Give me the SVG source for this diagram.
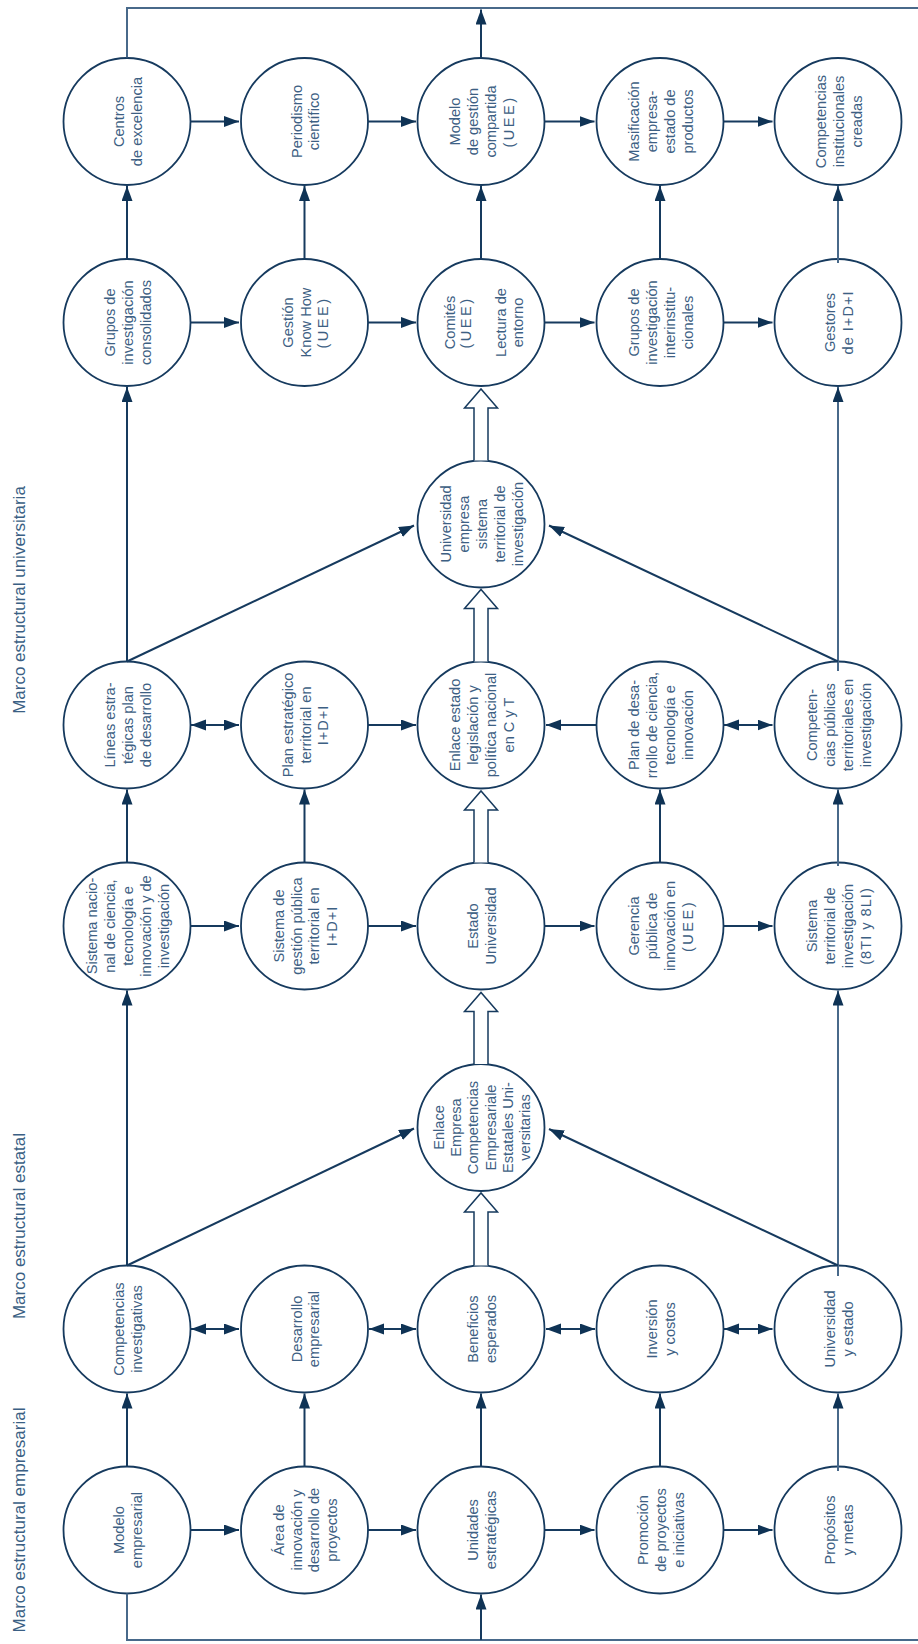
<svg xmlns="http://www.w3.org/2000/svg" width="918" height="1644" viewBox="0 0 918 1644">
<style>
.node circle{fill:#fff;stroke:#163a5e;stroke-width:1.8}
.node text{font-family:'Liberation Sans',Arial,sans-serif;font-size:14.6px;fill:#3d6083;text-anchor:middle}
.conn{stroke:#163a5e;stroke-width:2;fill:none}
.conn.light{stroke:#48698a}
.block{fill:#fff;stroke:#163a5e;stroke-width:1.5}
.label{font-family:'Liberation Sans',Arial,sans-serif;font-size:17px;fill:#3a5f84;text-anchor:middle}
.sp{letter-spacing:2.5px}
.sp1{letter-spacing:1px}
</style>
<defs>
<marker id="ah" markerUnits="userSpaceOnUse" markerWidth="16" markerHeight="12" refX="15" refY="5.5" orient="auto-start-reverse" viewBox="0 0 16 12">
<path d="M0,0 L15,5.5 L0,11 z" fill="#0f3355"/>
</marker>
</defs>

<g id="labels">
<text class="label" transform="translate(25,600) rotate(-90)">Marco estructural universitaria</text>
<text class="label" transform="translate(25,1226) rotate(-90)">Marco estructural estatal</text>
<text class="label" transform="translate(25,1520) rotate(-90)">Marco estructural empresarial</text>
</g>

<!-- Row 1 -->
<g id="n-centros" class="node" transform="translate(127,121.5)"><circle r="63.5"/><text transform="rotate(-90)"><tspan x="0" y="-2.9">Centros</tspan><tspan x="0" y="14.9">de excelencia</tspan></text></g>
<g id="n-periodismo" class="node" transform="translate(304.5,121.5)"><circle r="63.5"/><text transform="rotate(-90)"><tspan x="0" y="-2.9">Periodismo</tspan><tspan x="0" y="14.9">científico</tspan></text></g>
<g id="n-modelo-gestion" class="node" transform="translate(481,121.5)"><circle r="63.5"/><text transform="rotate(-90)"><tspan x="0" y="-20.7">Modelo</tspan><tspan x="0" y="-2.9">de gestión</tspan><tspan x="0" y="14.9">compartida</tspan><tspan x="0" y="32.7" class="sp">(UEE)</tspan></text></g>
<g id="n-masificacion" class="node" transform="translate(660,121.5)"><circle r="63.5"/><text transform="rotate(-90)"><tspan x="0" y="-20.7">Masificación</tspan><tspan x="0" y="-2.9">empresa-</tspan><tspan x="0" y="14.9">estado de</tspan><tspan x="0" y="32.7">productos</tspan></text></g>
<g id="n-comp-inst" class="node" transform="translate(838,121.5)"><circle r="63.5"/><text transform="rotate(-90)"><tspan x="0" y="-11.8">Competencias</tspan><tspan x="0" y="6">institucionales</tspan><tspan x="0" y="23.8">creadas</tspan></text></g>

<!-- Row 2 -->
<g id="n-grupos-cons" class="node" transform="translate(127,322.5)"><circle r="63.5"/><text transform="rotate(-90)"><tspan x="0" y="-11.8">Grupos de</tspan><tspan x="0" y="6">investigación</tspan><tspan x="0" y="23.8">consolidados</tspan></text></g>
<g id="n-gestion-kh" class="node" transform="translate(304.5,322.5)"><circle r="63.5"/><text transform="rotate(-90)"><tspan x="0" y="-11.8">Gestión</tspan><tspan x="0" y="6">Know How</tspan><tspan x="0" y="23.8" class="sp">(UEE)</tspan></text></g>
<g id="n-comites" class="node" transform="translate(481,322.5)"><circle r="63.5"/><text transform="rotate(-90)"><tspan x="0" y="-26">Comités</tspan><tspan x="0" y="-10" class="sp">(UEE)</tspan><tspan x="0" y="25">Lectura de</tspan><tspan x="0" y="42">entorno</tspan></text></g>
<g id="n-grupos-inter" class="node" transform="translate(660,322.5)"><circle r="63.5"/><text transform="rotate(-90)"><tspan x="0" y="-20.7">Grupos de</tspan><tspan x="0" y="-2.9">investigación</tspan><tspan x="0" y="14.9">interinstitu-</tspan><tspan x="0" y="32.7">cionales</tspan></text></g>
<g id="n-gestores" class="node" transform="translate(838,322.5)"><circle r="63.5"/><text transform="rotate(-90)"><tspan x="0" y="-2.9">Gestores</tspan><tspan x="0" y="14.9" class="sp1">de I+D+I</tspan></text></g>

<!-- Row 3 -->
<g id="n-univ-empresa" class="node" transform="translate(481,524)"><circle r="63.5"/><text transform="rotate(-90)"><tspan x="0" y="-29.6">Universidad</tspan><tspan x="0" y="-11.8">empresa</tspan><tspan x="0" y="6">sistema</tspan><tspan x="0" y="23.8">territorial de</tspan><tspan x="0" y="41.6">investigación</tspan></text></g>

<!-- Row 4 -->
<g id="n-lineas" class="node" transform="translate(127,725)"><circle r="63.5"/><text transform="rotate(-90)"><tspan x="0" y="-11.8">Líneas estra-</tspan><tspan x="0" y="6">tégicas plan</tspan><tspan x="0" y="23.8">de desarrollo</tspan></text></g>
<g id="n-plan-estrategico" class="node" transform="translate(304.5,725)"><circle r="63.5"/><text transform="rotate(-90)"><tspan x="0" y="-11.8">Plan estratégico</tspan><tspan x="0" y="6">territorial en</tspan><tspan x="0" y="23.8" class="sp1">I+D+I</tspan></text></g>
<g id="n-enlace-estado" class="node" transform="translate(481,725)"><circle r="63.5"/><text transform="rotate(-90)"><tspan x="0" y="-20.7">Enlace estado</tspan><tspan x="0" y="-2.9">legislación y</tspan><tspan x="0" y="14.9">política nacional</tspan><tspan x="0" y="32.7">en C y T</tspan></text></g>
<g id="n-plan-desarrollo" class="node" transform="translate(660,725)"><circle r="63.5"/><text transform="rotate(-90)"><tspan x="0" y="-20.7">Plan de desa-</tspan><tspan x="0" y="-2.9">rrollo de ciencia,</tspan><tspan x="0" y="14.9">tecnología e</tspan><tspan x="0" y="32.7">innovación</tspan></text></g>
<g id="n-comp-publicas" class="node" transform="translate(838,725)"><circle r="63.5"/><text transform="rotate(-90)"><tspan x="0" y="-20.7">Competen-</tspan><tspan x="0" y="-2.9">cias públicas</tspan><tspan x="0" y="14.9">territoriales en</tspan><tspan x="0" y="32.7">investigación</tspan></text></g>

<!-- Row 5 -->
<g id="n-sistema-nacional" class="node" transform="translate(127,926)"><circle r="63.5"/><text transform="rotate(-90)"><tspan x="0" y="-29.6">Sistema nacio-</tspan><tspan x="0" y="-11.8">nal de ciencia,</tspan><tspan x="0" y="6">tecnología e</tspan><tspan x="0" y="23.8">innovación y de</tspan><tspan x="0" y="41.6">investigación</tspan></text></g>
<g id="n-sistema-gestion" class="node" transform="translate(304.5,926)"><circle r="63.5"/><text transform="rotate(-90)"><tspan x="0" y="-20.7">Sistema de</tspan><tspan x="0" y="-2.9">gestión pública</tspan><tspan x="0" y="14.9">territorial en</tspan><tspan x="0" y="32.7" class="sp1">I+D+I</tspan></text></g>
<g id="n-estado-univ" class="node" transform="translate(481,926)"><circle r="63.5"/><text transform="rotate(-90)"><tspan x="0" y="-2.9">Estado</tspan><tspan x="0" y="14.9">Universidad</tspan></text></g>
<g id="n-gerencia" class="node" transform="translate(660,926)"><circle r="63.5"/><text transform="rotate(-90)"><tspan x="0" y="-20.7">Gerencia</tspan><tspan x="0" y="-2.9">pública de</tspan><tspan x="0" y="14.9">innovación en</tspan><tspan x="0" y="32.7" class="sp">(UEE)</tspan></text></g>
<g id="n-sistema-territorial" class="node" transform="translate(838,926)"><circle r="63.5"/><text transform="rotate(-90)"><tspan x="0" y="-20.7">Sistema</tspan><tspan x="0" y="-2.9">territorial de</tspan><tspan x="0" y="14.9">investigación</tspan><tspan x="0" y="32.7" class="sp1">(8TI y 8LI)</tspan></text></g>

<!-- Row 6 -->
<g id="n-enlace-empresa" class="node" transform="translate(481,1127.5)"><circle r="63.5"/><text transform="rotate(-90)"><tspan x="0" y="-37">Enlace</tspan><tspan x="0" y="-19.8">Empresa</tspan><tspan x="0" y="-2.6">Competencias</tspan><tspan x="0" y="14.6">Empresariale</tspan><tspan x="0" y="31.8">Estatales Uni-</tspan><tspan x="0" y="49">versitarias</tspan></text></g>

<!-- Row 7 -->
<g id="n-comp-invest" class="node" transform="translate(127,1329)"><circle r="63.5"/><text transform="rotate(-90)"><tspan x="0" y="-2.9">Competencias</tspan><tspan x="0" y="14.9">investigativas</tspan></text></g>
<g id="n-desarrollo-emp" class="node" transform="translate(304.5,1329)"><circle r="63.5"/><text transform="rotate(-90)"><tspan x="0" y="-2.9">Desarrollo</tspan><tspan x="0" y="14.9">empresarial</tspan></text></g>
<g id="n-beneficios" class="node" transform="translate(481,1329)"><circle r="63.5"/><text transform="rotate(-90)"><tspan x="0" y="-2.9">Beneficios</tspan><tspan x="0" y="14.9">esperados</tspan></text></g>
<g id="n-inversion" class="node" transform="translate(660,1329)"><circle r="63.5"/><text transform="rotate(-90)"><tspan x="0" y="-2.9">Inversión</tspan><tspan x="0" y="14.9">y costos</tspan></text></g>
<g id="n-univ-estado" class="node" transform="translate(838,1329)"><circle r="63.5"/><text transform="rotate(-90)"><tspan x="0" y="-2.9">Universidad</tspan><tspan x="0" y="14.9">y estado</tspan></text></g>

<!-- Row 8 -->
<g id="n-modelo-emp" class="node" transform="translate(127,1530)"><circle r="63.5"/><text transform="rotate(-90)"><tspan x="0" y="-2.9">Modelo</tspan><tspan x="0" y="14.9">empresarial</tspan></text></g>
<g id="n-area" class="node" transform="translate(304.5,1530)"><circle r="63.5"/><text transform="rotate(-90)"><tspan x="0" y="-20.7">Área de</tspan><tspan x="0" y="-2.9">innovación y</tspan><tspan x="0" y="14.9">desarrollo de</tspan><tspan x="0" y="32.7">proyectos</tspan></text></g>
<g id="n-unidades" class="node" transform="translate(481,1530)"><circle r="63.5"/><text transform="rotate(-90)"><tspan x="0" y="-2.9">Unidades</tspan><tspan x="0" y="14.9">estratégicas</tspan></text></g>
<g id="n-promocion" class="node" transform="translate(660,1530)"><circle r="63.5"/><text transform="rotate(-90)"><tspan x="0" y="-11.8">Promoción</tspan><tspan x="0" y="6">de proyectos</tspan><tspan x="0" y="23.8">e iniciativas</tspan></text></g>
<g id="n-propositos" class="node" transform="translate(838,1530)"><circle r="63.5"/><text transform="rotate(-90)"><tspan x="0" y="-2.9">Propósitos</tspan><tspan x="0" y="14.9">y metas</tspan></text></g>

<g id="connectors">
<!-- frame lines -->
<path class="conn light" d="M127,57.5 V8 H918"/>
<path class="conn light" d="M127,1593.5 V1640 H918"/>
<line class="conn" x1="481" y1="57.5" x2="481" y2="9.5" marker-end="url(#ah)"/>
<line class="conn" x1="481" y1="1640" x2="481" y2="1594.5" marker-end="url(#ah)"/>

<!-- row 1 horizontals -->
<line class="conn" x1="190.5" y1="121.5" x2="239" y2="121.5" marker-end="url(#ah)"/>
<line class="conn" x1="368" y1="121.5" x2="416" y2="121.5" marker-end="url(#ah)"/>
<line class="conn" x1="544.5" y1="121.5" x2="594.5" y2="121.5" marker-end="url(#ah)"/>
<line class="conn" x1="723.5" y1="121.5" x2="772.5" y2="121.5" marker-end="url(#ah)"/>
<!-- row 2 horizontals -->
<line class="conn" x1="190.5" y1="322.5" x2="239" y2="322.5" marker-end="url(#ah)"/>
<line class="conn" x1="368" y1="322.5" x2="416" y2="322.5" marker-end="url(#ah)"/>
<line class="conn" x1="544.5" y1="322.5" x2="594.5" y2="322.5" marker-end="url(#ah)"/>
<line class="conn" x1="723.5" y1="322.5" x2="772.5" y2="322.5" marker-end="url(#ah)"/>
<!-- row 2 -> row 1 -->
<line class="conn" x1="127" y1="259" x2="127" y2="186" marker-end="url(#ah)"/>
<line class="conn" x1="304.5" y1="259" x2="304.5" y2="186" marker-end="url(#ah)"/>
<line class="conn" x1="481" y1="259" x2="481" y2="186" marker-end="url(#ah)"/>
<line class="conn" x1="660" y1="259" x2="660" y2="186" marker-end="url(#ah)"/>
<line class="conn light" x1="838" y1="263" x2="838" y2="186" marker-end="url(#ah)"/>

<!-- row 4 -->
<line class="conn" x1="191" y1="725" x2="239" y2="725" marker-start="url(#ah)" marker-end="url(#ah)"/>
<line class="conn" x1="368" y1="725" x2="416" y2="725" marker-end="url(#ah)"/>
<line class="conn" x1="596.5" y1="725" x2="546" y2="725" marker-end="url(#ah)"/>
<line class="conn" x1="724" y1="725" x2="772.5" y2="725" marker-start="url(#ah)" marker-end="url(#ah)"/>
<!-- row 4 -> row 2 -->
<line class="conn" x1="127" y1="661.5" x2="127" y2="387" marker-end="url(#ah)"/>
<line class="conn light" x1="838" y1="671" x2="838" y2="387" marker-end="url(#ah)"/>
<!-- diagonals to Universidad empresa -->
<line class="conn" x1="127" y1="661.5" x2="414" y2="525.5" marker-end="url(#ah)"/>
<line class="conn" x1="838" y1="661.5" x2="549" y2="525.5" marker-end="url(#ah)"/>

<!-- row 5 -->
<line class="conn" x1="190.5" y1="926" x2="239" y2="926" marker-end="url(#ah)"/>
<line class="conn" x1="368" y1="926" x2="416" y2="926" marker-end="url(#ah)"/>
<line class="conn" x1="544.5" y1="926" x2="594.5" y2="926" marker-end="url(#ah)"/>
<line class="conn" x1="723.5" y1="926" x2="772.5" y2="926" marker-end="url(#ah)"/>
<!-- row 5 -> row 4 -->
<line class="conn" x1="127" y1="862.5" x2="127" y2="789.5" marker-end="url(#ah)"/>
<line class="conn" x1="304.5" y1="862.5" x2="304.5" y2="789.5" marker-end="url(#ah)"/>
<line class="conn" x1="660" y1="862.5" x2="660" y2="789.5" marker-end="url(#ah)"/>
<line class="conn light" x1="838" y1="866" x2="838" y2="789.5" marker-end="url(#ah)"/>

<!-- row 7 -->
<line class="conn" x1="191" y1="1329" x2="239" y2="1329" marker-start="url(#ah)" marker-end="url(#ah)"/>
<line class="conn" x1="369" y1="1329" x2="416" y2="1329" marker-start="url(#ah)" marker-end="url(#ah)"/>
<line class="conn" x1="546" y1="1329" x2="595" y2="1329" marker-start="url(#ah)" marker-end="url(#ah)"/>
<line class="conn" x1="724" y1="1329" x2="772.5" y2="1329" marker-start="url(#ah)" marker-end="url(#ah)"/>
<!-- row 7 -> row 5 -->
<line class="conn" x1="127" y1="1265.5" x2="127" y2="990.5" marker-end="url(#ah)"/>
<line class="conn light" x1="838" y1="1276" x2="838" y2="990.5" marker-end="url(#ah)"/>
<!-- diagonals to Enlace Empresa -->
<line class="conn" x1="127" y1="1265.5" x2="414" y2="1128.5" marker-end="url(#ah)"/>
<line class="conn" x1="838" y1="1265.5" x2="549" y2="1129" marker-end="url(#ah)"/>

<!-- row 8 -->
<line class="conn" x1="190.5" y1="1530" x2="239" y2="1530" marker-end="url(#ah)"/>
<line class="conn" x1="368" y1="1530" x2="416" y2="1530" marker-end="url(#ah)"/>
<line class="conn" x1="544.5" y1="1530" x2="594.5" y2="1530" marker-end="url(#ah)"/>
<line class="conn" x1="723.5" y1="1530" x2="772.5" y2="1530" marker-end="url(#ah)"/>
<!-- row 8 -> row 7 -->
<line class="conn" x1="127" y1="1466.5" x2="127" y2="1393.5" marker-end="url(#ah)"/>
<line class="conn" x1="304.5" y1="1466.5" x2="304.5" y2="1393.5" marker-end="url(#ah)"/>
<line class="conn" x1="481" y1="1466.5" x2="481" y2="1393.5" marker-end="url(#ah)"/>
<line class="conn" x1="660" y1="1466.5" x2="660" y2="1393.5" marker-end="url(#ah)"/>
<line class="conn light" x1="838" y1="1471" x2="838" y2="1393.5" marker-end="url(#ah)"/>

<!-- hollow block arrows (column 3) -->
<path class="block" d="M474,460.5 V408 H464.5 L481,389 L497.5,408 H488 V460.5"/>
<path class="block" d="M474,661.5 V608.5 H464.5 L481,589.5 L497.5,608.5 H488 V661.5"/>
<path class="block" d="M474,862.5 V810 H464.5 L481,791 L497.5,810 H488 V862.5"/>
<path class="block" d="M474,1064 V1011.5 H464.5 L481,992.5 L497.5,1011.5 H488 V1064"/>
<path class="block" d="M474,1265.5 V1212 H464.5 L481,1193 L497.5,1212 H488 V1265.5"/>
</g>
</svg>
